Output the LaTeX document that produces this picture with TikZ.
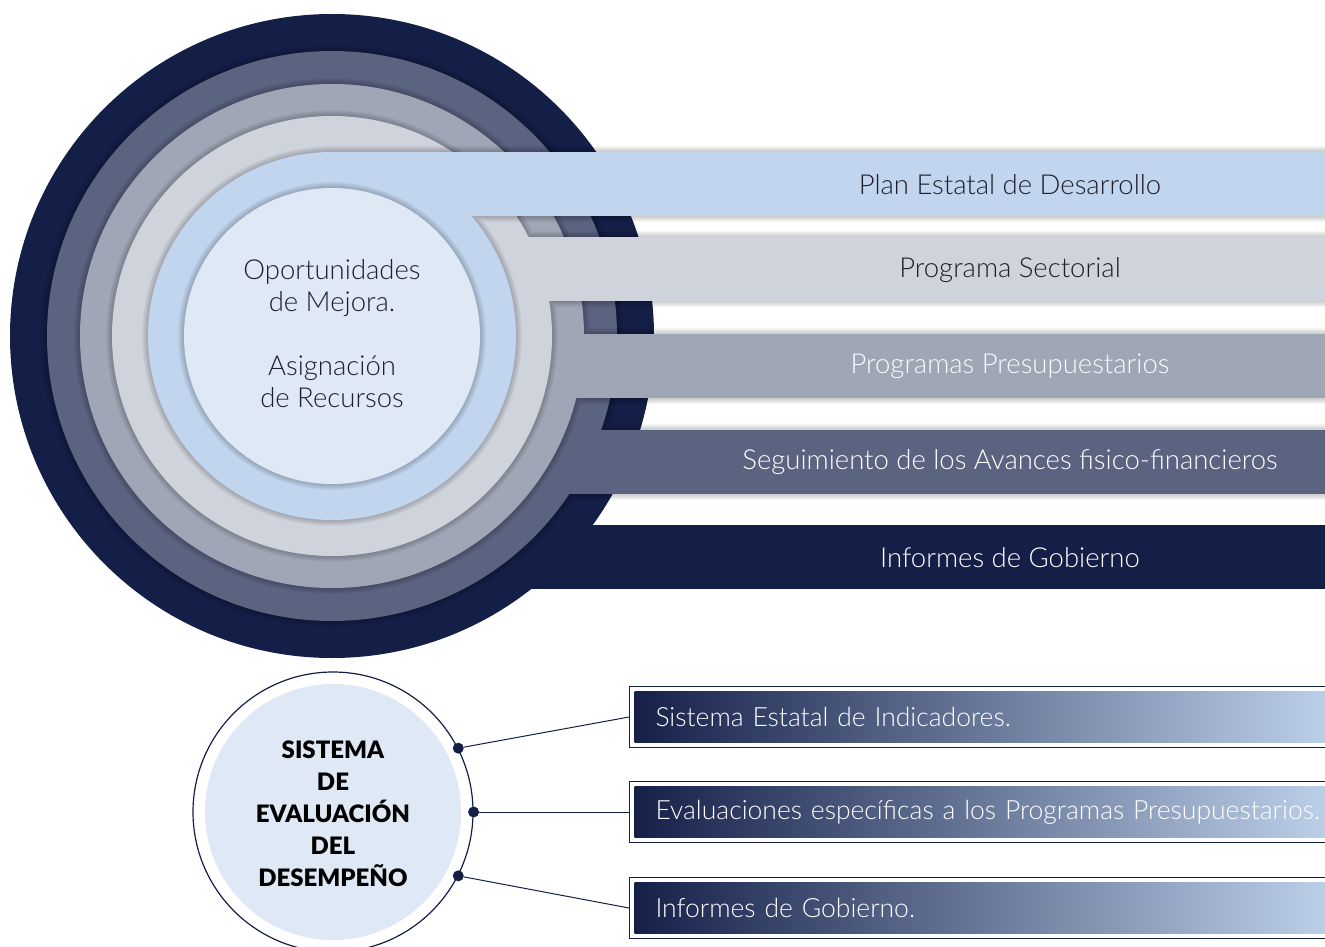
\documentclass[tikz,border=0pt]{standalone}
\usepackage{fontspec}
\setmainfont{Lato}[UprightFont={* Light},BoldFont={* Black}]
\usetikzlibrary{positioning}

\definecolor{navy}{HTML}{141F48}
\definecolor{slate}{HTML}{5A6380}
\definecolor{steel}{HTML}{9FA6B6}
\definecolor{mist}{HTML}{CFD3DC}
\definecolor{sky}{HTML}{C1D5EE}
\definecolor{pale}{HTML}{DFE8F5}
\definecolor{ink}{HTML}{1E1F2A}

\begin{document}
\begin{tikzpicture}[x=1pt,y=-1pt,
  bandtxt/.style={font=\fontsize{27.5}{32}\selectfont},
  dot/.style={circle,fill=navy,inner sep=0pt,minimum size=11pt},
  evalbox/.style={draw=navy,line width=1pt,fill=white,anchor=west,
    minimum width=720pt,minimum height=61pt,text width=668pt,inner xsep=26pt,
    align=left,text=white,font=\fontsize{26.5}{30}\selectfont,
    path picture={\shade[left color=navy,right color=sky]
      ([shift={(5pt,-5pt)}]path picture bounding box.north west) rectangle
      ([shift={(-5pt,5pt)}]path picture bounding box.south east);}}]
\useasboundingbox (0,0) rectangle (1325,947);

% rings with their bands
\fill[navy] (332,336) circle[radius=322];
\fill[navy] (332,525) rectangle (1340,589);
\foreach \r/\t/\b/\c in {285/430/494/slate, 252/334/398/steel, 220/237/301/mist, 184/152/216/sky} {
  \foreach \w in {2,4,...,12}
    \draw[black,opacity=0.035,line width=\w pt] (332,336) circle[radius=\r] (332,\t) rectangle (1340,\b);
  \fill[\c] (332,336) circle[radius=\r];
  \fill[\c] (332,\t) rectangle (1340,\b);
}
\foreach \w in {2,4,...,12}
  \draw[black,opacity=0.035,line width=\w pt] (332,336) circle[radius=148];
\fill[pale] (332,336) circle[radius=148];

\node[align=center,text=ink,font=\fontsize{27.5}{32}\selectfont] (mejora) at (332,334)
  {Oportunidades\\de Mejora.\\[32pt]Asignación\\de Recursos};

\node[bandtxt,text=ink] (ped) at (1010,185) {Plan Estatal de Desarrollo};
\node[bandtxt,text=ink] (psec) at (1010,270) {Programa Sectorial};
\node[bandtxt,text=white!90!sky] (ppres) at (1010,366) {Programas Presupuestarios};
\node[bandtxt,text=white] (segui) at (1010,462) {Seguimiento de los Avances fisico-financieros};
\node[bandtxt,text=white] (infg) at (1010,558) {Informes de Gobierno};

% evaluacion del desempeno
\node[circle,draw=navy,line width=1.2pt,fill=white,minimum size=280pt] (sed) at (333,812) {};
\fill[pale] (sed.center) circle[radius=128];
\node[align=center,text=black,font=\bfseries\fontsize{24}{32}\selectfont] (sedtxt) at (333,814)
  {SISTEMA\\DE\\EVALUACIÓN\\DEL\\DESEMPEÑO};

\node[dot] (d1) at (sed.27) {};
\node[dot] (d2) at (sed.0) {};
\node[dot] (d3) at (sed.-27) {};

\node[evalbox] (b1) at (629,717) {Sistema Estatal de Indicadores.};
\node[evalbox] (b2) at (629,812) {Evaluaciones específicas a los Programas Presupuestarios.};
\node[evalbox] (b3) at (629,908) {Informes de Gobierno.};

\draw[navy,line width=1pt] (d1) -- (b1.west);
\draw[navy,line width=1pt] (d2) -- (b2.west);
\draw[navy,line width=1pt] (d3) -- (b3.west);
\end{tikzpicture}
\end{document}
